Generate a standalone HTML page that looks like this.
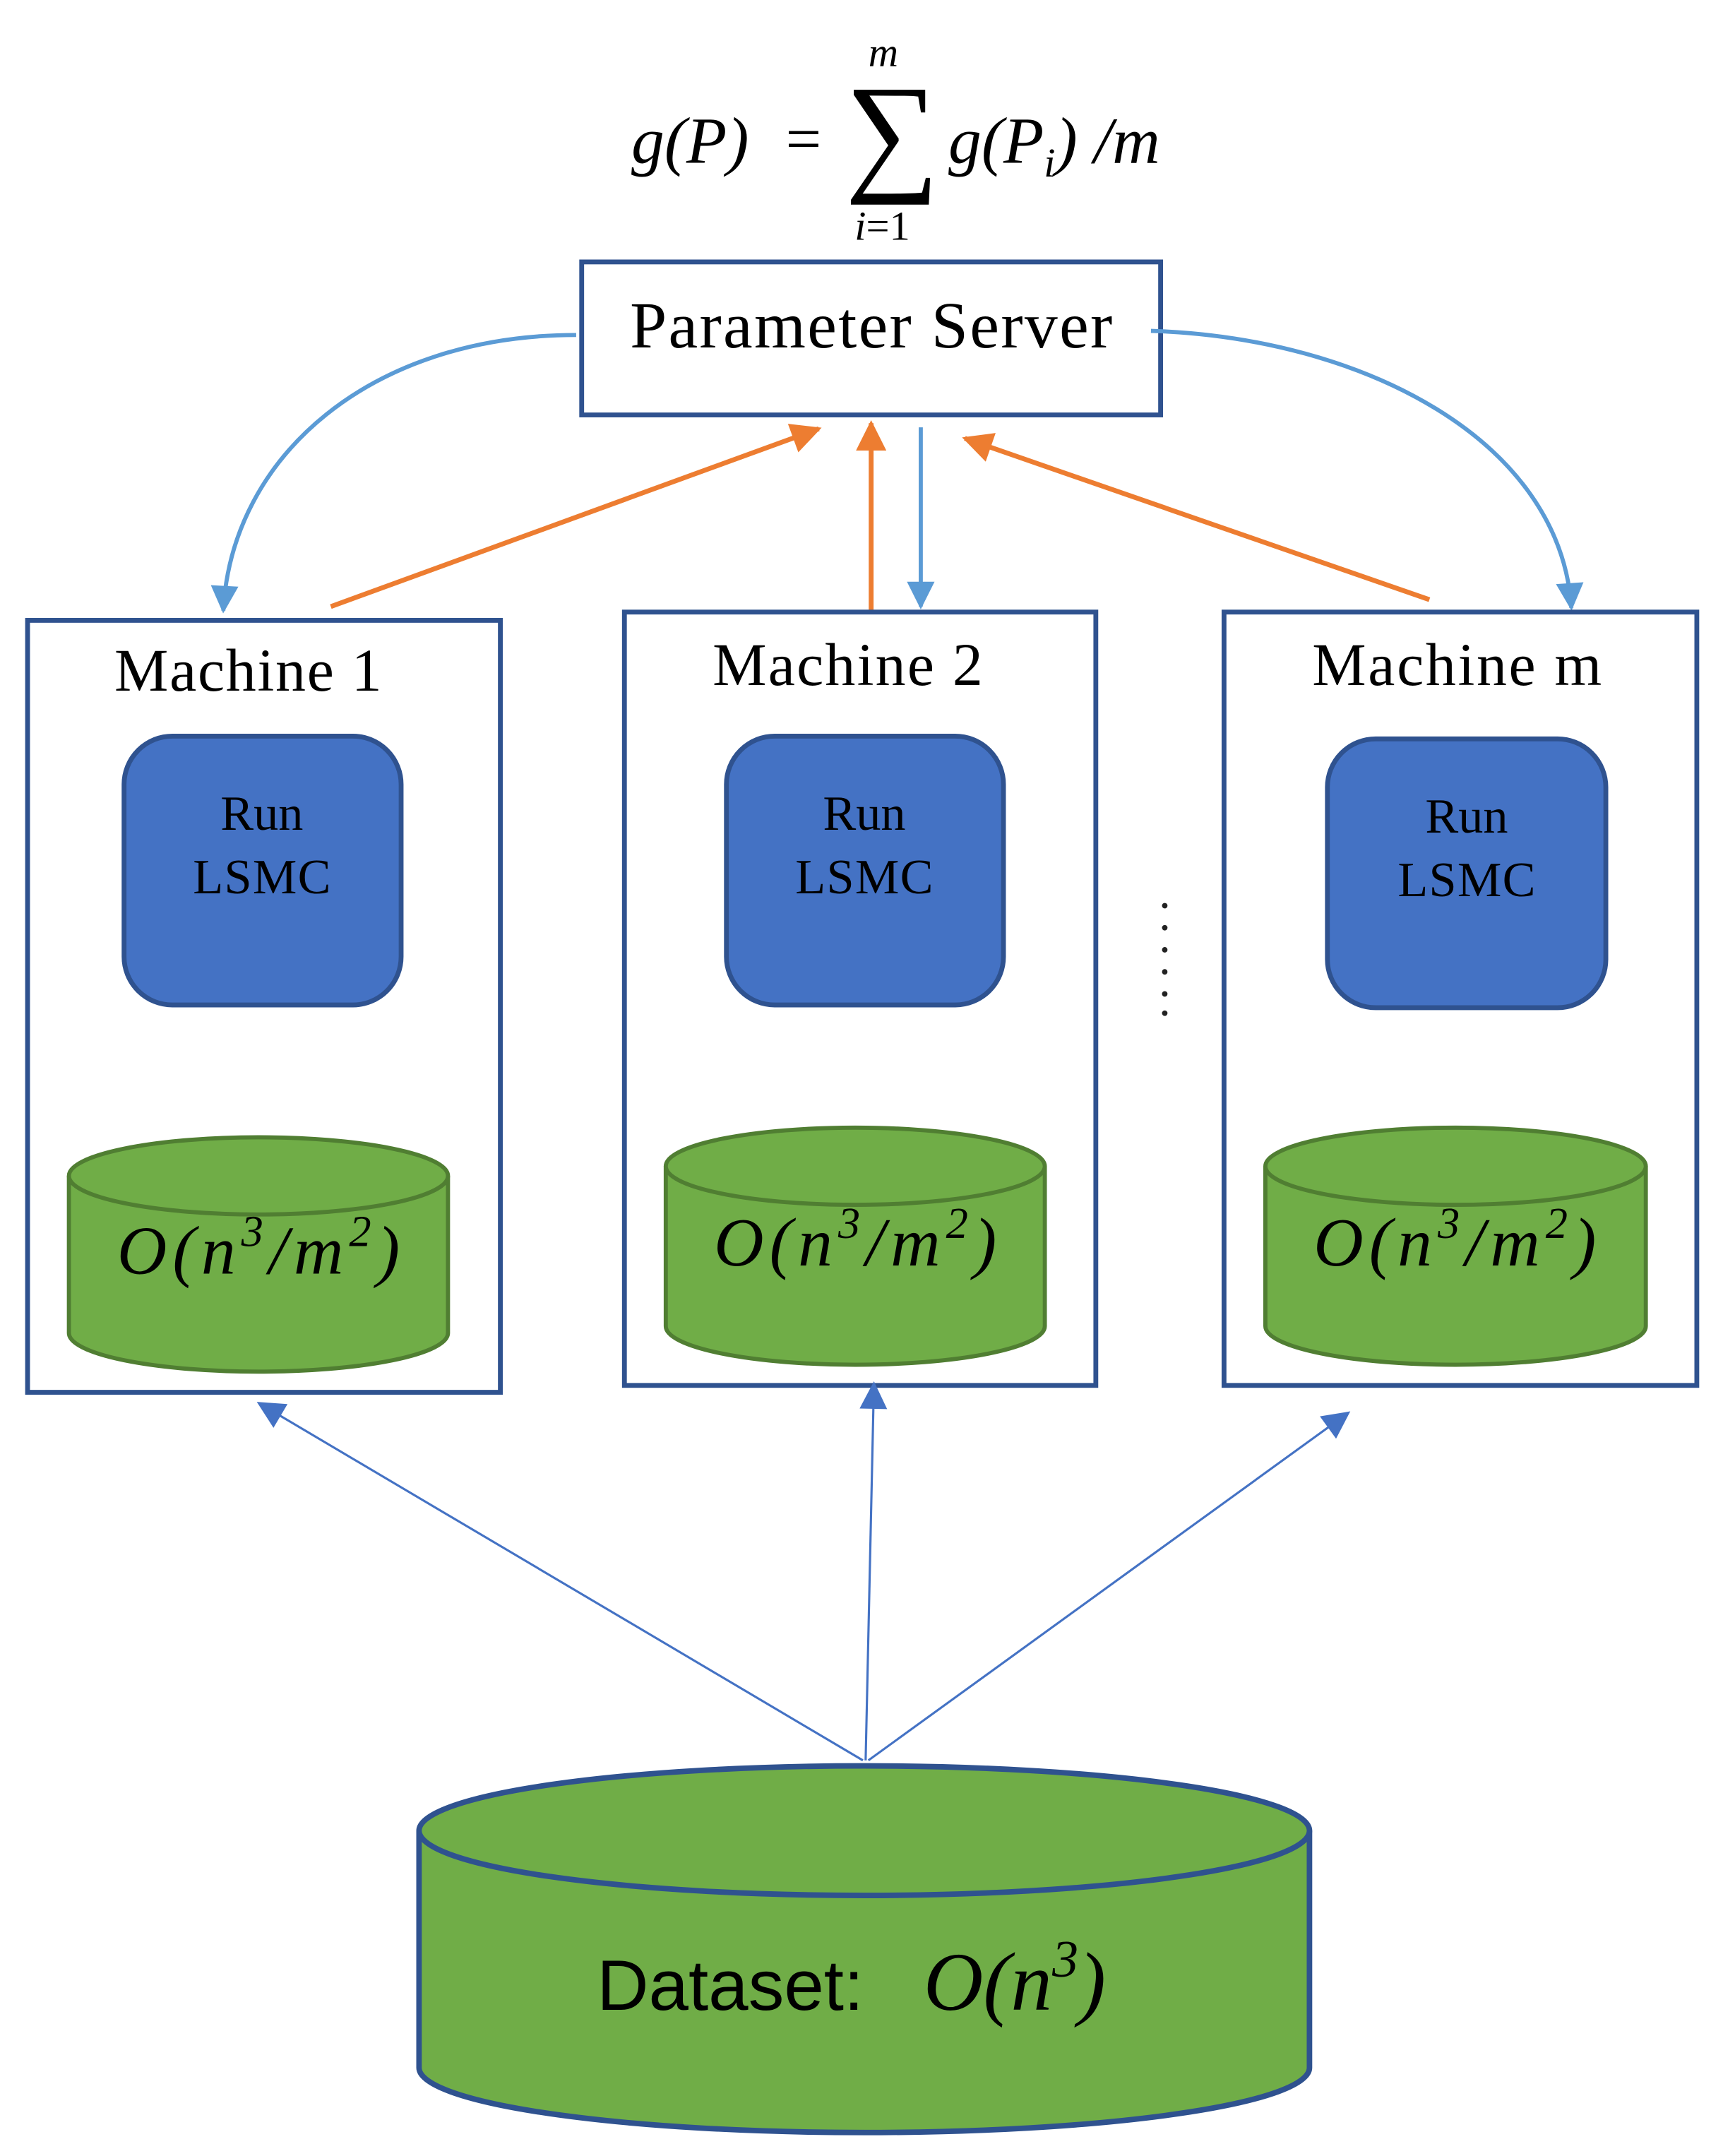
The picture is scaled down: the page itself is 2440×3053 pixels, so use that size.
<!DOCTYPE html>
<html><head><meta charset="utf-8"><style>
html,body{margin:0;padding:0;background:#fff;width:2440px;height:3053px;overflow:hidden}
svg{display:block}
</style></head><body>
<svg width="2440" height="3053" viewBox="0 0 1250 1564" xmlns="http://www.w3.org/2000/svg">
<defs>
<marker id="ob" viewBox="0 0 10 10" refX="9" refY="5" markerWidth="24" markerHeight="22" orient="auto" markerUnits="userSpaceOnUse"><path d="M0,0 L10,5 L0,10 Z" fill="#ED7D31"/></marker>
<marker id="lb" viewBox="0 0 10 10" refX="9" refY="5" markerWidth="24" markerHeight="20" orient="auto" markerUnits="userSpaceOnUse"><path d="M0,0 L10,5 L0,10 Z" fill="#5B9BD5"/></marker>
<marker id="db" viewBox="0 0 10 10" refX="9" refY="5" markerWidth="26" markerHeight="20" orient="auto" markerUnits="userSpaceOnUse"><path d="M0,0 L10,5 L0,10 Z" fill="#4472C4"/></marker>
</defs>

<!-- formula -->
<g font-family="Liberation Serif, serif" font-style="italic" fill="#000">
<text x="458" y="118" font-size="48">g(P)</text>
<text x="570" y="116" font-size="46" font-style="normal">=</text>
<text x="630" y="48" font-size="30">m</text>
<text x="613" y="128" font-size="96" font-style="normal">∑</text>
<text x="620" y="174" font-size="30">i<tspan font-style="normal">=1</tspan></text>
<text x="688" y="118" font-size="48">g(P<tspan font-size="30" dy="10">i</tspan><tspan dy="-10">) /m</tspan></text>
</g>

<!-- parameter server -->
<rect x="422" y="190" width="420" height="111" fill="#fff" stroke="#2F528F" stroke-width="3.5"/>
<text x="632" y="252" font-family="Liberation Serif, serif" font-size="48" text-anchor="middle" textLength="350">Parameter Server</text>

<!-- curves -->
<path d="M418,243 C270,243 168,330 162,443" fill="none" stroke="#5B9BD5" stroke-width="3" marker-end="url(#lb)"/>
<path d="M835,240 C990,245 1132,320 1140,441" fill="none" stroke="#5B9BD5" stroke-width="3" marker-end="url(#lb)"/>
<line x1="668" y1="310" x2="668" y2="440" stroke="#5B9BD5" stroke-width="3" marker-end="url(#lb)"/>
<!-- orange -->
<line x1="240" y1="440" x2="594" y2="311" stroke="#ED7D31" stroke-width="3.5" marker-end="url(#ob)"/>
<line x1="632" y1="446" x2="632" y2="307" stroke="#ED7D31" stroke-width="3.5" marker-end="url(#ob)"/>
<line x1="1037" y1="435" x2="700" y2="318" stroke="#ED7D31" stroke-width="3.5" marker-end="url(#ob)"/>

<!-- machines -->
<g fill="#fff" stroke="#2F528F" stroke-width="3.5">
<rect x="20" y="450" width="343" height="560"/>
<rect x="453" y="444" width="342" height="561"/>
<rect x="888" y="444" width="343" height="561"/>
</g>
<g font-family="Liberation Serif, serif" font-size="44" text-anchor="middle">
<text x="180" y="501" textLength="194">Machine 1</text>
<text x="615" y="497" textLength="196">Machine 2</text>
<text x="1057" y="497" textLength="210">Machine m</text>
</g>
<g fill="#4472C4" stroke="#2F528F" stroke-width="3.5">
<rect x="90" y="534" width="201" height="195" rx="35"/>
<rect x="527" y="534" width="201" height="195" rx="35"/>
<rect x="963" y="536" width="202" height="195" rx="35"/>
</g>
<g font-family="Liberation Serif, serif" font-size="36" text-anchor="middle" fill="#000">
<text x="190" y="602">Run</text><text x="190" y="648" textLength="100">LSMC</text>
<text x="627" y="602">Run</text><text x="627" y="648" textLength="100">LSMC</text>
<text x="1064" y="604">Run</text><text x="1064" y="650" textLength="100">LSMC</text>
</g>
<g fill="#222"><circle cx="845" cy="657" r="2"/><circle cx="845" cy="673" r="2"/><circle cx="845" cy="689" r="2"/><circle cx="845" cy="705" r="2"/><circle cx="845" cy="721" r="2"/><circle cx="845" cy="735" r="2"/></g>

<!-- small cylinders -->
<g fill="#70AD47" stroke="#507E32" stroke-width="3">
<path d="M50,853 L50,967 A137.5,28 0 0 0 325,967 L325,853"/>
<ellipse cx="187.5" cy="853" rx="137.5" ry="28"/>
<path d="M483,846 L483,962 A137.5,28 0 0 0 758,962 L758,846"/>
<ellipse cx="620.5" cy="846" rx="137.5" ry="28"/>
<path d="M918,846 L918,962 A138,28 0 0 0 1194,962 L1194,846"/>
<ellipse cx="1056" cy="846" rx="138" ry="28"/>
</g>
<g font-family="Liberation Serif, serif" font-style="italic" font-size="50" fill="#000">
<text x="85" y="924" textLength="205">O(n<tspan font-size="32" dy="-20">3</tspan><tspan dy="20">/m</tspan><tspan font-size="32" dy="-20">2</tspan><tspan dy="20">)</tspan></text>
<text x="518" y="918" textLength="205">O(n<tspan font-size="32" dy="-20">3</tspan><tspan dy="20">/m</tspan><tspan font-size="32" dy="-20">2</tspan><tspan dy="20">)</tspan></text>
<text x="953" y="918" textLength="205">O(n<tspan font-size="32" dy="-20">3</tspan><tspan dy="20">/m</tspan><tspan font-size="32" dy="-20">2</tspan><tspan dy="20">)</tspan></text>
</g>

<!-- dataset arrows -->
<g stroke="#4472C4" stroke-width="1.6">
<line x1="626" y1="1277" x2="188" y2="1018" marker-end="url(#db)"/>
<line x1="628" y1="1277" x2="634" y2="1004" marker-end="url(#db)"/>
<line x1="630" y1="1277" x2="978" y2="1025" marker-end="url(#db)"/>
</g>

<!-- dataset cylinder -->
<g fill="#70AD47" stroke="#2F528F" stroke-width="4">
<path d="M304,1328 L304,1500 A323,47 0 0 0 950,1500 L950,1328"/>
<ellipse cx="627" cy="1328" rx="323" ry="47"/>
</g>
<text x="433" y="1458" font-family="Liberation Sans, sans-serif" font-size="52" fill="#000">Dataset:</text>
<text x="670" y="1458" font-family="Liberation Serif, serif" font-style="italic" font-size="60" fill="#000">O(n<tspan font-size="38" dy="-24">3</tspan><tspan dy="24">)</tspan></text>
</svg>
</body></html>
